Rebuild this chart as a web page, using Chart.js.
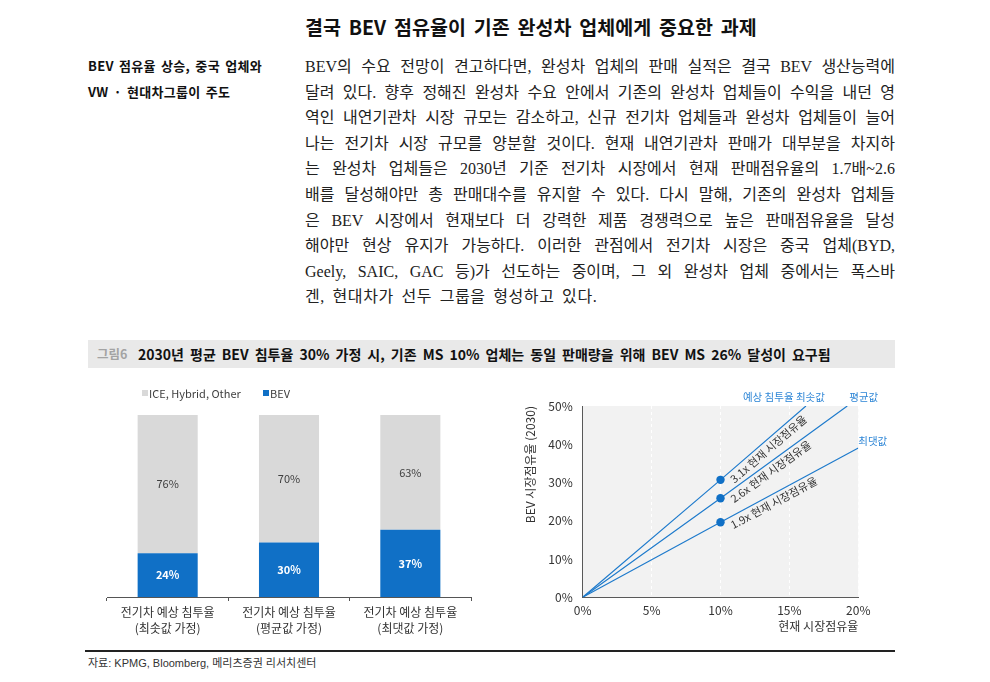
<!DOCTYPE html>
<html><head><meta charset="utf-8">
<script src="https://cdn.jsdelivr.net/npm/chart.js@4.4.1/dist/chart.umd.min.js"></script>
<style>
html,body{margin:0;padding:0;background:#fff;}
body{width:990px;height:682px;position:relative;overflow:hidden;font-family:"Noto Sans CJK KR","Noto Sans",sans-serif;color:#111;}
.abs{position:absolute;}
#heading{left:305px;top:13px;font-size:19.5px;font-weight:700;white-space:nowrap;line-height:28px;color:#111;word-spacing:3.5px;}
#note{left:88px;top:53px;font-size:13px;font-weight:700;line-height:26px;white-space:nowrap;color:#111;word-spacing:2px;letter-spacing:0.3px;}
#body{left:305px;top:54px;width:590px;font-family:"Liberation Serif","Noto Sans CJK KR",serif;font-size:16px;line-height:25.6px;color:#222;}
#body div{text-align:justify;text-align-last:justify;height:25.6px;}
#body div.last{text-align-last:left;word-spacing:3px;letter-spacing:0.6px;}
#figbar{left:88px;top:340px;width:807px;height:28px;background:#e9e9e9;}
#figno{left:97px;top:340px;line-height:28px;font-size:12.5px;font-weight:700;color:#a3a3a3;}
#figtitle{left:138px;top:340px;line-height:28px;font-size:14px;font-weight:700;color:#111;white-space:nowrap;word-spacing:2.9px;}
#srcline{left:85px;top:650px;width:810px;height:1.5px;background:#222;}
#src{left:88px;top:655px;font-size:11px;line-height:16px;color:#333;font-family:"Liberation Sans Narrow","Liberation Sans","Noto Sans CJK KR",sans-serif;white-space:nowrap;}
#barwrap{left:90px;top:375px;}
#linewrap{left:510px;top:380px;}
</style></head>
<body>
<div id="heading" class="abs">결국 BEV 점유율이 기존 완성차 업체에게 중요한 과제</div>
<div id="note" class="abs">BEV 점유율 상승, 중국 업체와<br>VW · 현대차그룹이 주도</div>
<div id="body" class="abs">
<div>BEV의 수요 전망이 견고하다면, 완성차 업체의 판매 실적은 결국 BEV 생산능력에</div>
<div>달려 있다. 향후 정해진 완성차 수요 안에서 기존의 완성차 업체들이 수익을 내던 영</div>
<div>역인 내연기관차 시장 규모는 감소하고, 신규 전기차 업체들과 완성차 업체들이 늘어</div>
<div>나는 전기차 시장 규모를 양분할 것이다. 현재 내연기관차 판매가 대부분을 차지하</div>
<div>는 완성차 업체들은 2030년 기준 전기차 시장에서 현재 판매점유율의 1.7배~2.6</div>
<div>배를 달성해야만 총 판매대수를 유지할 수 있다. 다시 말해, 기존의 완성차 업체들</div>
<div>은 BEV 시장에서 현재보다 더 강력한 제품 경쟁력으로 높은 판매점유율을 달성</div>
<div>해야만 현상 유지가 가능하다. 이러한 관점에서 전기차 시장은 중국 업체(BYD,</div>
<div>Geely, SAIC, GAC 등)가 선도하는 중이며, 그 외 완성차 업체 중에서는 폭스바</div>
<div class="last">겐, 현대차가 선두 그룹을 형성하고 있다.</div>
</div>
<div id="figbar" class="abs"></div>
<div id="figno" class="abs">그림6</div>
<div id="figtitle" class="abs">2030년 평균 BEV 침투율 30% 가정 시, 기존 MS 10% 업체는 동일 판매량을 위해 BEV MS 26% 달성이 요구됨</div>
<div id="barwrap" class="abs"><canvas id="bar" width="400" height="270"></canvas></div>
<div id="linewrap" class="abs"><canvas id="line" width="390" height="260"></canvas></div>
<div id="srcline" class="abs"></div>
<div id="src" class="abs">자료: KPMG, Bloomberg, 메리츠증권 리서치센터</div>
<script>
// ---- Left chart data ----
const categories = [
  ['전기차 예상 침투율', '(최솟값 가정)'],
  ['전기차 예상 침투율', '(평균값 가정)'],
  ['전기차 예상 침투율', '(최댓값 가정)']
];
const iceShare = [76, 70, 63];
const bevShare = [24, 30, 37];
const seriesNames = ['ICE, Hybrid, Other', 'BEV'];

// ---- Right chart data ----
const xTicks = [0, 5, 10, 15, 20];
const yTicks = [0, 10, 20, 30, 40, 50];
const minLine = [{x: 0, y: 0}, {x: 10, y: 30.7}, {x: 16.2, y: 50}];
const avgLine = [{x: 0, y: 0}, {x: 10, y: 25.9}, {x: 19.2, y: 50}];
const maxLine = [{x: 0, y: 0}, {x: 10, y: 19.6}, {x: 20, y: 39}];
const multipliers = ['3.1x', '2.6x', '1.9x'];
const endLabels = ['예상 침투율 최솟값', '평균값', '최댓값'];

Chart.defaults.font.family = '"Noto Sans CJK KR", "Noto Sans", sans-serif';
Chart.defaults.color = '#333';

const BLUE = '#1070c6';
const GRAY = '#d9d9d9';

const barLabelPlugin = {
  id: 'barLabels',
  afterDatasetsDraw(chart) {
    const ctx = chart.ctx;
    ctx.save();
    ctx.textAlign = 'center';
    ctx.textBaseline = 'middle';
    chart.data.datasets.forEach((ds, di) => {
      const meta = chart.getDatasetMeta(di);
      meta.data.forEach((bar, i) => {
        const mid = (bar.y + bar.base) / 2;
        ctx.fillStyle = ds.labelColor;
        ctx.font = (ds.labelBold ? '700 ' : '400 ') + '11px "Noto Sans CJK KR"';
        ctx.fillText(ds.data[i] + '%', bar.x, mid);
      });
    });
    ctx.restore();
  }
};
const barLegendPlugin = {
  id: 'barLegend',
  afterDraw(chart) {
    const ctx = chart.ctx;
    ctx.save();
    ctx.font = '400 11px "Noto Sans CJK KR"';
    ctx.textBaseline = 'middle';
    ctx.textAlign = 'left';
    const items = [
      {text: seriesNames[0], color: GRAY, x: 52},
      {text: seriesNames[1], color: BLUE, x: 173}
    ];
    items.forEach(it => {
      ctx.fillStyle = it.color;
      ctx.fillRect(it.x, 15, 6, 6);
      ctx.fillStyle = '#404040';
      ctx.fillText(it.text, it.x + 7, 18.5);
    });
    ctx.restore();
  }
};

new Chart(document.getElementById('bar'), {
  type: 'bar',
  data: {
    labels: categories,
    datasets: [
      {label: seriesNames[1], data: bevShare, backgroundColor: BLUE, labelColor: '#ffffff', labelBold: true},
      {label: seriesNames[0], data: iceShare, backgroundColor: GRAY, labelColor: '#404040', labelBold: false}
    ]
  },
  options: {
    responsive: false,
    animation: false,
    categoryPercentage: 1,
    barPercentage: 0.495,
    layout: {padding: {left: 17, right: 19, top: 40, bottom: 0}},
    plugins: {legend: {display: false}, tooltip: {enabled: false}},
    scales: {
      x: {
        stacked: true,
        grid: {offset: true, drawOnChartArea: false, drawTicks: true, tickLength: 4, color: '#555'},
        border: {color: '#555', width: 1},
        ticks: {color: '#333', font: {size: 12, lineHeight: 1.3}, padding: 4, maxRotation: 0},
        afterFit(s) { s.height = 48; }
      },
      y: {stacked: true, display: false, min: 0, max: 100}
    }
  },
  plugins: [barLabelPlugin, barLegendPlugin]
});

const plotBgPlugin = {
  id: 'plotBg',
  beforeDraw(chart) {
    const {ctx, chartArea: a} = chart;
    ctx.save();
    ctx.fillStyle = '#f2f2f2';
    ctx.fillRect(a.left, a.top, a.right - a.left, a.bottom - a.top);
    ctx.restore();
  }
};
const lineTextPlugin = {
  id: 'lineText',
  afterDatasetsDraw(chart) {
    const ctx = chart.ctx;
    ctx.save();
    chart.data.datasets.forEach((ds, di) => {
      const pts = chart.getDatasetMeta(di).data;
      const dot = pts[1], end = pts[2];
      const ang = Math.atan2(end.y - dot.y, end.x - dot.x);
      ctx.save();
      ctx.translate(dot.x, dot.y);
      ctx.rotate(ang);
      ctx.font = '400 11px "Noto Sans CJK KR"';
      ctx.fillStyle = '#333';
      ctx.textAlign = 'left';
      ctx.textBaseline = 'middle';
      ctx.fillText(multipliers[di] + ' 현재 시장점유율', 8, 8);
      ctx.restore();
      ctx.font = '400 10.5px "Noto Sans CJK KR"';
      ctx.fillStyle = '#2e86d6';
      ctx.textBaseline = 'middle';
      if (di === 0) { ctx.textAlign = 'right'; ctx.fillText(endLabels[di], end.x + 19, end.y - 9); }
      else if (di === 1) { ctx.textAlign = 'left'; ctx.fillText(endLabels[di], end.x + 2, end.y - 9); }
      else { ctx.textAlign = 'left'; ctx.fillText(endLabels[di], end.x, end.y - 7); }
    });
    ctx.restore();
  }
};

const lineStyle = {borderColor: '#1f7bcc', borderWidth: 1.2, pointRadius: [0, 4.2, 0], pointBackgroundColor: BLUE, pointBorderWidth: 0, pointHoverRadius: 0, tension: 0, fill: false};

new Chart(document.getElementById('line'), {
  type: 'line',
  data: {
    datasets: [
      Object.assign({label: endLabels[0], data: minLine}, lineStyle),
      Object.assign({label: endLabels[1], data: avgLine}, lineStyle),
      Object.assign({label: endLabels[2], data: maxLine}, lineStyle)
    ]
  },
  options: {
    responsive: false,
    animation: false,
    layout: {padding: {left: 0, right: 41.7, top: 26, bottom: 0}},
    plugins: {legend: {display: false}, tooltip: {enabled: false}},
    scales: {
      x: {
        type: 'linear', min: xTicks[0], max: xTicks[xTicks.length - 1],
        afterBuildTicks(s) { s.ticks = xTicks.map(v => ({value: v})); },
        grid: {color: '#ffffff', lineWidth: 1, drawTicks: false},
        border: {color: '#595959', width: 1, dash: [3, 3]},
        ticks: {color: '#333', font: {size: 12}, padding: 6, callback: v => v + '%'},
        title: {display: true, text: '현재 시장점유율', align: 'end', color: '#333', font: {size: 12}, padding: {top: 0, bottom: 6}},
        afterFit(s) { s.height = 42.7; }
      },
      y: {
        type: 'linear', min: yTicks[0], max: yTicks[yTicks.length - 1],
        afterBuildTicks(s) { s.ticks = yTicks.map(v => ({value: v})); },
        grid: {display: false, drawTicks: false},
        border: {display: true, color: '#595959', width: 1},
        ticks: {color: '#333', font: {size: 12}, padding: 10, callback: v => v + '%'},
        title: {display: true, text: 'BEV 시장점유율 (2030)', align: 'end', color: '#333', font: {size: 12}, padding: {top: 13, bottom: 0}},
        afterFit(s) { s.width = 72.7; }
      }
    }
  },
  plugins: [plotBgPlugin, lineTextPlugin]
});
</script>
</body></html>
